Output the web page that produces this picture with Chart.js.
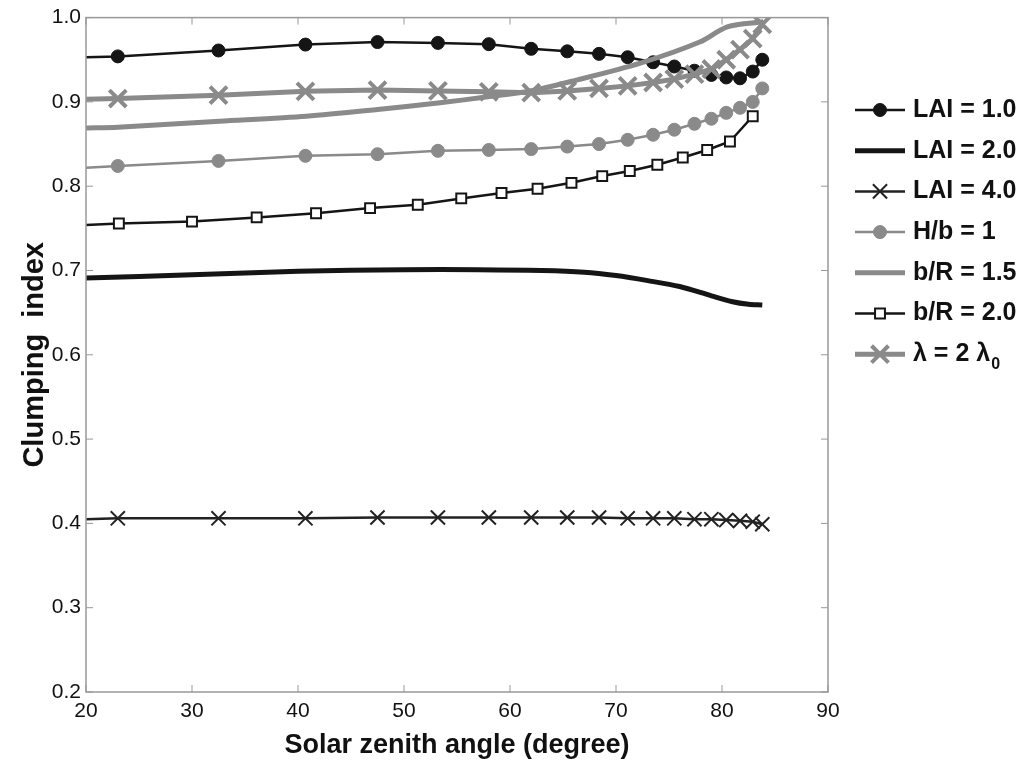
<!DOCTYPE html>
<html>
<head>
	<meta charset="UTF-8">
	<title>Clumping index</title>
	<script src="https://cdn.jsdelivr.net/npm/chart.js@4.4.1/dist/chart.umd.min.js"></script>
	<style>
		body { margin:0; padding:0; overflow:hidden; background:#fff; }
		canvas { display:block; }
	</style>
</head>
<body>
	<canvas id="chart" width="1024" height="765"></canvas>
	<script>
		// solar zenith angles (degree) and clumping index values
		const angles = [20, 23, 32.5, 40.7, 47.5, 53.2, 58.0, 62.0, 65.4, 68.4, 71.1, 73.5, 75.5, 77.4, 79.0, 80.4, 81.7, 82.9, 83.8];
		const lai1 = [0.953, 0.954, 0.961, 0.968, 0.971, 0.970, 0.9685, 0.963, 0.960, 0.957, 0.953, 0.947, 0.942, 0.937, 0.932, 0.929, 0.928, 0.936, 0.950];
		const lai4 = [0.405, 0.406, 0.406, 0.406, 0.407, 0.407, 0.407, 0.407, 0.407, 0.407, 0.406, 0.406, 0.406, 0.405, 0.405, 0.404, 0.403, 0.402, 0.399];
		const hb1 = [0.822, 0.824, 0.830, 0.836, 0.838, 0.842, 0.843, 0.844, 0.847, 0.850, 0.855, 0.861, 0.867, 0.874, 0.880, 0.887, 0.893, 0.900, 0.916];
		const lambda2 = [0.903, 0.904, 0.908, 0.9125, 0.914, 0.913, 0.912, 0.911, 0.913, 0.916, 0.919, 0.923, 0.927, 0.933, 0.939, 0.950, 0.962, 0.975, 0.992];

		const anglesLai2 = [20, 30, 40, 50, 57, 63, 67, 70, 73, 76, 79, 81, 82.5, 83.8];
		const lai2 = [0.691, 0.695, 0.699, 0.701, 0.701, 0.700, 0.698, 0.694, 0.688, 0.681, 0.670, 0.663, 0.660, 0.659];

		const anglesBr15 = [20, 23, 32.6, 40.8, 47.5, 53.4, 57.9, 61.9, 66, 72.3, 77.9, 80.5, 83.9];
		const br15 = [0.869, 0.870, 0.877, 0.883, 0.891, 0.899, 0.906, 0.913, 0.925, 0.946, 0.971, 0.989, 0.995];

		const anglesBr2 = [20, 23.1, 30.0, 36.1, 41.7, 46.8, 51.3, 55.4, 59.2, 62.6, 65.8, 68.7, 71.3, 73.9, 76.3, 78.6, 80.75, 82.9];
		const br2 = [0.754, 0.7557, 0.758, 0.763, 0.768, 0.774, 0.778, 0.7855, 0.792, 0.797, 0.804, 0.812, 0.818, 0.8255, 0.834, 0.843, 0.853, 0.883];

		const labels = ['LAI = 1.0', 'LAI = 2.0', 'LAI = 4.0', 'H/b = 1', 'b/R = 1.5', 'b/R = 2.0', 'λ = 2 λ'];

		const BLACK = '#151515';
		const GRAY = '#8a8a8a';
		const FONT = '"Liberation Sans", Arial, sans-serif';

		function pts(xs, ys) {
			return xs.map((x, i) => ({x: x, y: ys[i]}));
		}
		// first point (x = 20) is only the start of the line, no marker there
		function radii(xs, r) {
			return xs.map((x, i) => i === 0 ? 0 : r);
		}

		const datasets = [
			{label: labels[0], data: pts(angles, lai1), borderColor: BLACK, backgroundColor: BLACK, borderWidth: 2.5,
				pointStyle: 'circle', pointRadius: radii(angles, 6.5), pointBorderWidth: 1, order: 7},
			{label: labels[1], data: pts(anglesLai2, lai2), borderColor: BLACK, backgroundColor: BLACK, borderWidth: 5,
				pointRadius: 0, tension: 0.3, order: 6},
			{label: labels[2], data: pts(angles, lai4), borderColor: '#222', backgroundColor: '#222', borderWidth: 2.5,
				pointStyle: 'crossRot', pointRadius: radii(angles, 10), pointBorderWidth: 2, order: 5},
			{label: labels[3], data: pts(angles, hb1), borderColor: GRAY, backgroundColor: GRAY, borderWidth: 2.5,
				pointStyle: 'circle', pointRadius: radii(angles, 6.5), pointBorderWidth: 1, order: 4},
			{label: labels[4], data: pts(anglesBr15, br15), borderColor: GRAY, backgroundColor: GRAY, borderWidth: 5,
				pointRadius: 0, tension: 0.3, order: 3},
			{label: labels[5], data: pts(anglesBr2, br2), borderColor: BLACK, backgroundColor: '#fff', borderWidth: 2.5,
				pointStyle: 'rect', pointRadius: radii(anglesBr2, 7), pointBorderWidth: 2, order: 2},
			{label: labels[6], data: pts(angles, lambda2), borderColor: GRAY, backgroundColor: GRAY, borderWidth: 5,
				pointStyle: 'crossRot', pointRadius: radii(angles, 12), pointBorderWidth: 4, order: 1}
		];

		// axes box with inward ticks on all four sides
		const boxPlugin = {
			id: 'box',
			afterDraw(chart) {
				const {ctx, chartArea: a, scales} = chart;
				ctx.save();
				ctx.strokeStyle = '#999';
				ctx.lineWidth = 1.5;
				ctx.strokeRect(a.left, a.top, a.right - a.left, a.bottom - a.top);
				ctx.lineWidth = 1;
				ctx.beginPath();
				scales.x.ticks.forEach(t => {
					const px = scales.x.getPixelForValue(t.value);
					ctx.moveTo(px, a.bottom); ctx.lineTo(px, a.bottom - 7);
					ctx.moveTo(px, a.top); ctx.lineTo(px, a.top + 7);
				});
				scales.y.ticks.forEach(t => {
					const py = scales.y.getPixelForValue(t.value);
					ctx.moveTo(a.left, py); ctx.lineTo(a.left + 7, py);
					ctx.moveTo(a.right, py); ctx.lineTo(a.right - 7, py);
				});
				ctx.stroke();
				ctx.restore();
			}
		};

		// MATLAB style legend: line sample with marker, to the right of the axes
		const legendPlugin = {
			id: 'sideLegend',
			afterDraw(chart) {
				const ctx = chart.ctx;
				const x0 = 855, x1 = 905, y0 = 110, dy = 40.7;
				ctx.save();
				chart.data.datasets.forEach((ds, i) => {
					const y = y0 + i * dy;
					ctx.strokeStyle = ds.borderColor;
					ctx.lineWidth = ds.borderWidth;
					ctx.beginPath();
					ctx.moveTo(x0, y); ctx.lineTo(x1, y);
					ctx.stroke();
					const r = Array.isArray(ds.pointRadius) ? ds.pointRadius[1] : ds.pointRadius;
					if (r > 0) {
						ctx.fillStyle = ds.backgroundColor;
						ctx.strokeStyle = ds.borderColor;
						ctx.lineWidth = ds.pointBorderWidth;
						Chart.helpers.drawPoint(ctx, {pointStyle: ds.pointStyle, radius: r, borderWidth: ds.pointBorderWidth, rotation: 0}, (x0 + x1) / 2, y);
					}
					ctx.fillStyle = '#111';
					ctx.font = 'bold 25px ' + FONT;
					ctx.textBaseline = 'middle';
					ctx.textAlign = 'left';
					ctx.fillText(ds.label, 913, y);
					if (i === labels.length - 1) {
						const w = ctx.measureText(ds.label).width;
						ctx.font = 'bold 16px ' + FONT;
						ctx.fillText('0', 913 + w + 1, y + 10);
					}
				});
				ctx.restore();
			}
		};

		const ctx = document.getElementById('chart').getContext('2d');
		new Chart(ctx, {
			type: 'line',
			data: {datasets: datasets},
			options: {
				responsive: false,
				animation: false,
				layout: {padding: {top: 14, right: 196, left: 0, bottom: 0}},
				plugins: {legend: {display: false}, tooltip: {enabled: false}},
				scales: {
					x: {
						type: 'linear', min: 20, max: 90,
						grid: {display: false, drawTicks: false},
						border: {display: false},
						ticks: {stepSize: 10, padding: 7, color: '#111', font: {family: FONT, size: 21}},
						title: {display: true, text: 'Solar zenith angle (degree)', color: '#111',
							font: {family: FONT, size: 27, weight: 'bold'},
							padding: {top: 0, bottom: 3}},
						afterFit(scale) { scale.height = 73; }
					},
					y: {
						min: 0.2, max: 1.0,
						grid: {display: false, drawTicks: false},
						border: {display: false},
						ticks: {stepSize: 0.1, padding: 5, color: '#111',
							callback: v => v.toFixed(1),
							font: {family: FONT, size: 21}},
						title: {display: true, text: 'Clumping  index', color: '#111',
							font: {family: FONT, size: 29, weight: 'bold'},
							padding: {top: 18, bottom: 0}},
						afterFit(scale) { scale.width = 86; }
					}
				}
			},
			plugins: [boxPlugin, legendPlugin]
		});
	</script>
</body>
</html>
